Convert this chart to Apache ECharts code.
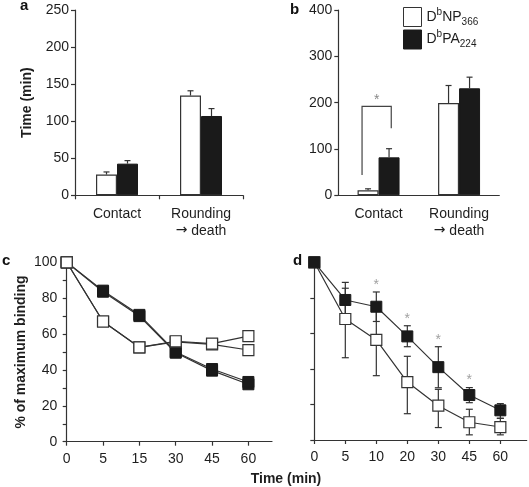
<!DOCTYPE html>
<html><head><meta charset="utf-8">
<script src="https://cdn.jsdelivr.net/npm/echarts@6/dist/echarts.min.js"></script>
<style>html,body{margin:0;padding:0;background:#fff}#c{width:529px;height:487px}</style>
</head><body><div id="c"></div>
<script>
// ---- data ----
const barCategories = ['Contact', 'Rounding\n→ death'];
const aNP = [28, 134.6];
const aNPErr = [31.5, 141];
const aPA = [42.7, 107];
const aPAErr = [46.8, 117];
const bNP = [11, 199];
const bNPErr = [14, 237];
const bPA = [82, 231];
const bPAErr = [100.6, 255];
const bBracket = [44, 192, 145]; // left leg bottom, bracket top, right leg bottom

const timesC = ['0', '5', '15', '30', '45', '60'];
const cBlack1 = [100, 84.2, 70.7, 50, 40.5, 33.3];
const cBlack2 = [100, 83.6, 70.0, 49.6, 39.6, 32.0];
const cWhite1 = [100, 67, 52.6, 56, 54.7, 58.8];
const cWhite2 = [100, 67, 52.6, 55.6, 54.3, 51.1];

const timesD = ['0', '5', '10', '20', '30', '45', '60'];
const dBlack = [100, 78.8, 75, 58.3, 41, 25.3, 16.7];
const dBlackLow = [100, 69, 66.7, 52.5, 29.4, 21, 12.2];
const dBlackHigh = [100, 88.7, 83.3, 64.3, 52.5, 29.5, 20.5];
const dWhite = [100, 68.1, 56.3, 32.6, 19.3, 10, 7.3];
const dWhiteLow = [100, 46.3, 36.2, 14.8, 7, 2.9, 2.9];
const dWhiteHigh = [100, 85.4, 76, 47.1, 28.5, 17.3, 12.2];
const dSignificant = ['10', '20', '30', '45'];

// ---- style ----
const FONT = 'Liberation Sans, Arial, Helvetica, sans-serif';
const AX = '#333';
const TXT = '#1e1e1e';
const BLACK = '#1a1a1a';
const BAR_W = 21;

const chart = echarts.init(document.getElementById('c'), null, {renderer: 'canvas'});

function yAxisBase(gi, max, interval) {
  return {
    type: 'value', gridIndex: gi, min: 0, max: max, interval: interval,
    axisLine: {show: true, lineStyle: {color: AX, width: 1.2}},
    axisTick: {show: true, length: 4, lineStyle: {color: AX, width: 1.2}},
    axisLabel: {color: TXT, fontSize: 14, fontFamily: FONT, margin: 6},
    splitLine: {show: false}
  };
}
function catAxis(gi, showTick) {
  return {
    type: 'category', gridIndex: gi, data: barCategories,
    axisLine: {show: true, lineStyle: {color: AX, width: 1.2}},
    axisTick: {show: showTick, length: 4, lineStyle: {color: AX, width: 1.2}},
    axisLabel: {color: TXT, fontSize: 14, fontFamily: FONT, margin: 10, lineHeight: 17, interval: 0,
      hideOverlap: false,
      formatter: v => v.replace('→', '{ar|→}'),
      rich: {ar: {fontFamily: 'DejaVu Sans', fontSize: 14, color: TXT, lineHeight: 17}}}
  };
}
function timeAxis(gi, labels, min, max) {
  const idx = labels.map((_, i) => i);
  return {
    type: 'value', gridIndex: gi, min: min, max: max,
    axisLine: {show: true, lineStyle: {color: AX, width: 1.2}},
    axisTick: {show: true, length: 4, customValues: idx, lineStyle: {color: AX, width: 1.2}},
    axisLabel: {color: TXT, fontSize: 14, fontFamily: FONT, margin: 10, customValues: idx,
      formatter: v => labels[Math.round(v)]},
    splitLine: {show: false}
  };
}

function barErr(gi, vals, errs, offset) {
  return {
    type: 'custom', xAxisIndex: gi, yAxisIndex: gi, z: 5,
    data: vals.map((v, i) => [i, v, errs[i]]),
    encode: {x: 0, y: [1, 2]},
    renderItem: function (params, api) {
      const p0 = api.coord([api.value(0), api.value(1)]);
      const p1 = api.coord([api.value(0), api.value(2)]);
      const x = p0[0] + offset;
      return {type: 'group', children: [
        {type: 'line', shape: {x1: x, y1: p0[1], x2: x, y2: p1[1]}, style: {stroke: AX, lineWidth: 1.2}},
        {type: 'line', shape: {x1: x - 3, y1: p1[1], x2: x + 3, y2: p1[1]}, style: {stroke: AX, lineWidth: 1.2}}
      ]};
    }
  };
}
function rangeErr(gi, lows, highs) {
  return {
    type: 'custom', xAxisIndex: gi, yAxisIndex: gi, z: 1,
    data: lows.map((v, i) => [i, v, highs[i]]),
    encode: {x: 0, y: [1, 2]},
    renderItem: function (params, api) {
      const lo = api.coord([api.value(0), api.value(1)]);
      const hi = api.coord([api.value(0), api.value(2)]);
      const x = lo[0];
      return {type: 'group', children: [
        {type: 'line', shape: {x1: x, y1: lo[1], x2: x, y2: hi[1]}, style: {stroke: AX, lineWidth: 1.2}},
        {type: 'line', shape: {x1: x - 3.5, y1: lo[1], x2: x + 3.5, y2: lo[1]}, style: {stroke: AX, lineWidth: 1.2}},
        {type: 'line', shape: {x1: x - 3.5, y1: hi[1], x2: x + 3.5, y2: hi[1]}, style: {stroke: AX, lineWidth: 1.2}}
      ]};
    }
  };
}
function lineSeries(gi, vals, black, z) {
  return {
    type: 'line', xAxisIndex: gi, yAxisIndex: gi, z: z,
    data: vals.map((v, i) => [i, v]),
    symbol: 'rect', symbolSize: 11, showSymbol: true,
    lineStyle: {color: AX, width: 1.2},
    itemStyle: black ? {color: BLACK, borderColor: BLACK, borderWidth: 1}
                     : {color: '#fff', borderColor: AX, borderWidth: 1.2},
    emphasis: {disabled: true}
  };
}
function barSeries(gi, name, vals, black) {
  return {
    type: 'bar', name: name, xAxisIndex: gi, yAxisIndex: gi,
    data: vals, barWidth: BAR_W, barGap: '0%',
    itemStyle: black ? {color: BLACK, borderColor: BLACK, borderWidth: 1}
                     : {color: '#fff', borderColor: AX, borderWidth: 1.2}
  };
}

const option = {
  animation: false,
  textStyle: {fontFamily: FONT},
  grid: [
    {left: 75, top: 10, width: 168, height: 185.3},
    {left: 338.3, top: 10, width: 161, height: 185.3},
    {left: 63.3, top: 262.3, width: 208.7, height: 179.4},
    {left: 311.7, top: 262.3, width: 215, height: 177.7}
  ],
  xAxis: [
    catAxis(0, true),
    catAxis(1, false),
    timeAxis(2, timesC, -0.094, 5.65),
    timeAxis(3, timesD, -0.084, 6.85)
  ],
  yAxis: [
    Object.assign(yAxisBase(0, 250, 50), {name: 'Time (min)', nameLocation: 'middle', nameGap: 41,
      nameTextStyle: {fontWeight: 'bold', fontSize: 14, color: TXT, fontFamily: FONT}}),
    yAxisBase(1, 400, 100),
    Object.assign(yAxisBase(2, 100, 10), {name: '% of maximum binding', nameLocation: 'middle', nameGap: 35,
      nameTextStyle: {fontWeight: 'bold', fontSize: 14, color: TXT, fontFamily: FONT},
      axisLabel: {color: TXT, fontSize: 14, fontFamily: FONT, margin: 6, formatter: v => (v % 20 === 0 ? String(v) : '')}}),
    Object.assign(yAxisBase(3, 100, 20), {axisLabel: {show: false}})
  ],
  legend: {
    orient: 'vertical', left: 398, top: 2, itemWidth: 18, itemHeight: 19, itemGap: 2.5,
    icon: 'rect', selectedMode: false,
    data: [
      {name: 'NP', itemStyle: {color: '#fff', borderColor: AX, borderWidth: 1}},
      {name: 'PA', itemStyle: {color: BLACK, borderColor: BLACK, borderWidth: 1}}
    ],
    formatter: n => n === 'NP' ? '{m|D}{s|b}{m|NP}{u|366}' : '{m|D}{s|b}{m|PA}{u|224}',
    textStyle: {
      rich: {
        m: {fontSize: 14, lineHeight: 20, color: TXT, fontFamily: FONT},
        s: {fontSize: 10, lineHeight: 12, verticalAlign: 'top', color: TXT, fontFamily: FONT},
        u: {fontSize: 10, lineHeight: 12, verticalAlign: 'bottom', color: TXT, fontFamily: FONT}
      }
    }
  },
  series: [
    barSeries(0, 'NP', aNP, false),
    barSeries(0, 'PA', aPA, true),
    barErr(0, aNP, aNPErr, -BAR_W / 2),
    barErr(0, aPA, aPAErr, BAR_W / 2),
    barSeries(1, 'NP', bNP, false),
    barSeries(1, 'PA', bPA, true),
    barErr(1, bNP, bNPErr, -BAR_W / 2),
    barErr(1, bPA, bPAErr, BAR_W / 2),
    {
      type: 'custom', xAxisIndex: 1, yAxisIndex: 1, z: 6,
      data: [[0, bBracket[0], bBracket[1], bBracket[2]]],
      encode: {x: 0, y: [1, 2, 3]},
      renderItem: function (params, api) {
        const c = api.coord([api.value(0), 0])[0];
        const yl = api.coord([api.value(0), api.value(1)])[1];
        const yt = api.coord([api.value(0), api.value(2)])[1];
        const yr = api.coord([api.value(0), api.value(3)])[1];
        const lx = c - 16.5, rx = c + 12.7;
        return {type: 'group', children: [
          {type: 'polyline', shape: {points: [[lx, yl], [lx, yt], [rx, yt], [rx, yr]]},
            style: {stroke: '#444', lineWidth: 1.2, fill: null}},
          {type: 'text', x: (lx + rx) / 2, y: yt - 6,
            style: {text: '*', fill: '#888', font: '14px ' + FONT, align: 'center', verticalAlign: 'middle',
              textAlign: 'center', textVerticalAlign: 'middle'}}
        ]};
      }
    },
    lineSeries(2, cBlack2, true, 2),
    lineSeries(2, cBlack1, true, 2),
    lineSeries(2, cWhite2, false, 3),
    lineSeries(2, cWhite1, false, 3),
    rangeErr(3, dWhiteLow, dWhiteHigh),
    rangeErr(3, dBlackLow, dBlackHigh),
    lineSeries(3, dWhite, false, 2),
    lineSeries(3, dBlack, true, 3),
    {
      type: 'scatter', xAxisIndex: 3, yAxisIndex: 3, z: 4, symbolSize: 0,
      data: dSignificant.map(t => { const i = timesD.indexOf(t); return [i, dBlackHigh[i]]; }),
      label: {show: true, formatter: '*', position: 'top', distance: 0, color: '#888', fontSize: 14, fontFamily: FONT},
      emphasis: {disabled: true}
    }
  ],
  graphic: [
    {type: 'text', x: 20, y: 6, style: {text: 'a', font: 'bold 15px ' + FONT, fill: '#111', align: 'left', verticalAlign: 'middle', textAlign: 'left', textVerticalAlign: 'middle'}},
    {type: 'text', x: 290, y: 10, style: {text: 'b', font: 'bold 15px ' + FONT, fill: '#111', align: 'left', verticalAlign: 'middle', textAlign: 'left', textVerticalAlign: 'middle'}},
    {type: 'text', x: 2, y: 261, style: {text: 'c', font: 'bold 15px ' + FONT, fill: '#111', align: 'left', verticalAlign: 'middle', textAlign: 'left', textVerticalAlign: 'middle'}},
    {type: 'text', x: 293, y: 261, style: {text: 'd', font: 'bold 15px ' + FONT, fill: '#111', align: 'left', verticalAlign: 'middle', textAlign: 'left', textVerticalAlign: 'middle'}},
    {type: 'text', x: 286, y: 479, style: {text: 'Time (min)', font: 'bold 14px ' + FONT, fill: TXT, align: 'center', verticalAlign: 'middle', textAlign: 'center', textVerticalAlign: 'middle'}}
  ]
};
chart.setOption(option);
</script>
</body></html>
